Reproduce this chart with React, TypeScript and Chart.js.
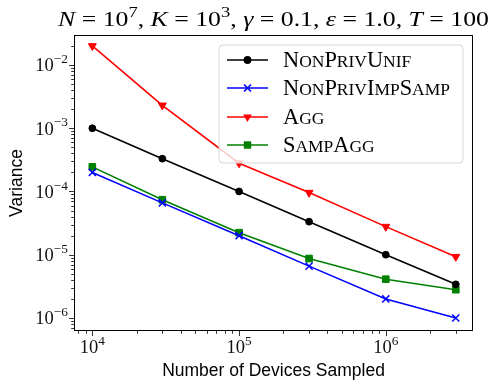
import React, { useEffect, useRef } from 'react';
import { Chart, registerables } from 'chart.js';

Chart.register(...registerables);

// ---- data ----
const devices = [1e4, 3e4, 1e5, 3e5, 1e6, 3e6];
const nonPrivUnif = [1.0e-3, 3.3e-4, 1.0e-4, 3.33e-5, 1.0e-5, 3.4e-6];
const nonPrivImpSamp = [2.0e-4, 6.6e-5, 2.0e-5, 6.6e-6, 2.0e-6, 1.0e-6];
const agg = [2.0e-2, 2.3e-3, 2.8e-4, 9.6e-5, 2.78e-5, 9.3e-6];
const sampAgg = [2.45e-4, 7.4e-5, 2.23e-5, 8.7e-6, 4.1e-6, 2.8e-6];

const seriesNames = ['NonPrivUnif', 'NonPrivImpSamp', 'Agg', 'SampAgg'];
const seriesColors = ['#000000', '#0000ff', '#ff0000', '#008000'];
const seriesMarkers = ['circle', 'x', 'tri', 'square'];

const xMajorTicks = [1e4, 1e5, 1e6];
const xMajorLabels = ['4', '5', '6'];
const yMajorTicks = [1e-2, 1e-3, 1e-4, 1e-5, 1e-6];
const yMajorLabels = ['\u22122', '\u22123', '\u22124', '\u22125', '\u22126'];

const xTitle = 'Number of Devices Sampled';
const yTitle = 'Variance';

const SERIF = '"Liberation Serif", "DejaVu Serif", serif';
const SANS = '"Liberation Sans", "DejaVu Sans", sans-serif';

function drawMarker(ctx: CanvasRenderingContext2D, kind: string, x: number, y: number, color: string) {
  ctx.save();
  ctx.fillStyle = color;
  ctx.strokeStyle = color;
  ctx.lineWidth = 1.6;
  ctx.beginPath();
  if (kind === 'circle') {
    ctx.arc(x, y, 3.9, 0, Math.PI * 2);
    ctx.fill();
  } else if (kind === 'square') {
    ctx.rect(x - 3.7, y - 3.7, 7.4, 7.4);
    ctx.fill();
  } else if (kind === 'tri') {
    const r = 5;
    ctx.moveTo(x, y + r);
    ctx.lineTo(x - r * 0.866, y - r * 0.5);
    ctx.lineTo(x + r * 0.866, y - r * 0.5);
    ctx.closePath();
    ctx.fill();
  } else {
    const d = 3.5;
    ctx.moveTo(x - d, y - d);
    ctx.lineTo(x + d, y + d);
    ctx.moveTo(x + d, y - d);
    ctx.lineTo(x - d, y + d);
    ctx.stroke();
  }
  ctx.restore();
}

function smallCapsWidth(ctx: CanvasRenderingContext2D, text: string, big: number, small: number) {
  let w = 0;
  for (const ch of text) {
    const isUpper = ch === ch.toUpperCase();
    ctx.font = `${isUpper ? big : small}px ${SERIF}`;
    w += ctx.measureText(ch.toUpperCase()).width;
  }
  return w;
}

function drawSmallCaps(ctx: CanvasRenderingContext2D, text: string, x: number, y: number, big: number, small: number) {
  let cx = x;
  for (const ch of text) {
    const isUpper = ch === ch.toUpperCase();
    ctx.font = `${isUpper ? big : small}px ${SERIF}`;
    const c = ch.toUpperCase();
    ctx.fillText(c, cx, y);
    cx += ctx.measureText(c).width;
  }
  return cx - x;
}

function drawPow(ctx: CanvasRenderingContext2D, exp: string, x: number, y: number, align: 'right' | 'center', size: number) {
  ctx.font = `${size}px ${SERIF}`;
  const wb = ctx.measureText('10').width;
  const es = size * 0.72;
  ctx.font = `${es}px ${SERIF}`;
  const we = ctx.measureText(exp).width;
  const total = wb + we;
  const left = align === 'right' ? x - total : x - total / 2;
  ctx.textAlign = 'left';
  ctx.font = `${size}px ${SERIF}`;
  ctx.fillText('10', left, y);
  ctx.font = `${es}px ${SERIF}`;
  ctx.fillText(exp, left + wb, y - size * 0.45);
}

const customPlugin = {
  id: 'customDraw',
  beforeDraw(chart: any) {
    const ctx = chart.ctx;
    ctx.save();
    ctx.fillStyle = '#ffffff';
    ctx.fillRect(0, 0, chart.width, chart.height);
    ctx.restore();
  },
  afterDatasetsDraw(chart: any) {
    const ctx: CanvasRenderingContext2D = chart.ctx;
    // legend
    const lx = 219, ly = 45, lw = 244, lh = 118, rr = 4;
    ctx.save();
    ctx.beginPath();
    ctx.moveTo(lx + rr, ly);
    ctx.arcTo(lx + lw, ly, lx + lw, ly + lh, rr);
    ctx.arcTo(lx + lw, ly + lh, lx, ly + lh, rr);
    ctx.arcTo(lx, ly + lh, lx, ly, rr);
    ctx.arcTo(lx, ly, lx + lw, ly, rr);
    ctx.closePath();
    ctx.fillStyle = 'rgba(255,255,255,0.8)';
    ctx.fill();
    ctx.strokeStyle = '#d6d6d6';
    ctx.lineWidth = 1;
    ctx.stroke();
    // size legend text so the longest entry spans the reference width
    const w0 = smallCapsWidth(ctx, 'NonPrivImpSamp', 20, 15.6);
    const k = 167 / w0;
    const big = 20 * k;
    const small = 15.6 * k;
    const rows = [60, 88, 117, 145];
    seriesNames.forEach((name, i) => {
      const y = rows[i];
      ctx.strokeStyle = seriesColors[i];
      ctx.lineWidth = 1.6;
      ctx.beginPath();
      ctx.moveTo(227, y);
      ctx.lineTo(268, y);
      ctx.stroke();
      drawMarker(ctx, seriesMarkers[i], 247.5, y, seriesColors[i]);
      ctx.fillStyle = '#000';
      ctx.textAlign = 'left';
      ctx.textBaseline = 'alphabetic';
      drawSmallCaps(ctx, name, 283, y + 6.5, big, small);
    });
    ctx.restore();
  },
  afterDraw(chart: any) {
    const ctx: CanvasRenderingContext2D = chart.ctx;
    const area = chart.chartArea;
    const xs = chart.scales.x;
    const ys = chart.scales.y;
    ctx.save();
    // frame
    ctx.strokeStyle = '#000';
    ctx.lineWidth = 1;
    ctx.strokeRect(area.left + 0.5, area.top + 0.5, area.right - area.left - 1, area.bottom - area.top - 1);
    ctx.strokeStyle = '#000';
    ctx.lineWidth = 0.8;
    // x ticks
    for (let e = 3; e <= 6; e++) {
      for (let m = 1; m <= 9; m++) {
        const v = m * Math.pow(10, e);
        if (v < xs.min || v > xs.max) continue;
        const px = Math.round(xs.getPixelForValue(v)) + 0.5;
        const len = m === 1 ? 5 : 2.8;
        ctx.beginPath();
        ctx.moveTo(px, area.bottom);
        ctx.lineTo(px, area.bottom + len);
        ctx.stroke();
      }
    }
    // y ticks
    for (let e = -7; e <= -1; e++) {
      for (let m = 1; m <= 9; m++) {
        const v = m * Math.pow(10, e);
        if (v < ys.min || v > ys.max) continue;
        const py = Math.round(ys.getPixelForValue(v)) + 0.5;
        const len = m === 1 ? 5 : 2.8;
        ctx.beginPath();
        ctx.moveTo(area.left, py);
        ctx.lineTo(area.left - len, py);
        ctx.stroke();
      }
    }
    ctx.fillStyle = '#111';
    ctx.textBaseline = 'alphabetic';
    xMajorTicks.forEach((v, i) => {
      const px = xs.getPixelForValue(v);
      drawPow(ctx, xMajorLabels[i], px, area.bottom + 22, 'center', 18.5);
    });
    yMajorTicks.forEach((v, i) => {
      const py = ys.getPixelForValue(v);
      drawPow(ctx, yMajorLabels[i], area.left - 6, py + 6.5, 'right', 18.5);
    });
    // axis titles
    ctx.fillStyle = '#000';
    ctx.font = `17.5px ${SANS}`;
    ctx.textAlign = 'center';
    ctx.fillText(xTitle, (area.left + area.right) / 2, 376);
    ctx.save();
    ctx.translate(22, (area.top + area.bottom) / 2);
    ctx.rotate(-Math.PI / 2);
    ctx.fillText(yTitle, 0, 0);
    ctx.restore();
    // title
    const pieces: [string, string, number][] = [
      ['N', 'i', 0], [' = 10', 'n', 0], ['7', 'n', 1], [', ', 'n', 0],
      ['K', 'i', 0], [' = 10', 'n', 0], ['3', 'n', 1], [', ', 'n', 0],
      ['\u03b3', 'i', 0], [' = 0.1, ', 'n', 0],
      ['\u03b5', 'i', 0], [' = 1.0, ', 'n', 0],
      ['T', 'i', 0], [' = 100', 'n', 0],
    ];
    const size = 21;
    const fontFor = (p: [string, string, number]) => {
      const s = p[2] ? size * 0.72 : size;
      return `${p[1] === 'i' ? 'italic ' : ''}${s}px ${SERIF}`;
    };
    let total = 0;
    const widths = pieces.map((p) => {
      ctx.font = fontFor(p);
      const w = ctx.measureText(p[0]).width;
      total += w;
      return w;
    });
    const targetW = 431;
    const sx = targetW / total;
    ctx.save();
    ctx.translate(58, 26);
    ctx.scale(sx, 1);
    ctx.textAlign = 'left';
    let cx = 0;
    pieces.forEach((p, i) => {
      ctx.font = fontFor(p);
      ctx.fillText(p[0], cx, p[2] ? -size * 0.42 : 0);
      cx += widths[i];
    });
    ctx.restore();
    ctx.restore();
  },
};

function makeDataset(label: string, values: number[], color: string, marker: string) {
  const base: any = {
    label,
    data: devices.map((d, i) => ({ x: d, y: values[i] })),
    borderColor: color,
    backgroundColor: color,
    pointBackgroundColor: color,
    pointBorderColor: color,
    borderWidth: 1.6,
    tension: 0,
    fill: false,
  };
  if (marker === 'circle') {
    base.pointStyle = 'circle';
    base.pointRadius = 3.4;
    base.pointBorderWidth = 1;
  } else if (marker === 'x') {
    base.pointStyle = 'crossRot';
    base.pointRadius = 5;
    base.pointBorderWidth = 1.5;
  } else if (marker === 'tri') {
    base.pointStyle = 'triangle';
    base.pointRotation = 180;
    base.pointRadius = 4.6;
    base.pointBorderWidth = 1;
  } else {
    base.pointStyle = 'rect';
    base.pointRadius = 4.7;
    base.pointBorderWidth = 1;
  }
  return base;
}

export default function App() {
  const ref = useRef<HTMLCanvasElement | null>(null);
  useEffect(() => {
    document.body.style.margin = '0';
    if (!ref.current) return;
    const seriesValues = [nonPrivUnif, nonPrivImpSamp, agg, sampAgg];
    const chart = new Chart(ref.current, {
      type: 'line',
      data: {
        datasets: seriesNames.map((n, i) => makeDataset(n, seriesValues[i], seriesColors[i], seriesMarkers[i])),
      },
      options: {
        animation: false,
        responsive: false,
        devicePixelRatio: 1,
        layout: { padding: { top: 35, right: 25, left: 0, bottom: 0 } },
        plugins: { legend: { display: false }, title: { display: false }, tooltip: { enabled: false } },
        scales: {
          x: {
            type: 'logarithmic',
            min: 7500,
            max: 3.93e6,
            grid: { display: false },
            border: { display: false },
            ticks: { display: false },
            afterFit: (s: any) => { s.height = 57; },
          },
          y: {
            type: 'logarithmic',
            min: 6.22e-7,
            max: 2.98e-2,
            grid: { display: false },
            border: { display: false },
            ticks: { display: false },
            afterFit: (s: any) => { s.width = 74; },
          },
        },
      } as any,
      plugins: [customPlugin],
    });
    return () => chart.destroy();
  }, []);
  return (
    <div style={{ width: 498, height: 388 }}>
      <canvas ref={ref} width={498} height={388} style={{ display: 'block' }} />
    </div>
  );
}
